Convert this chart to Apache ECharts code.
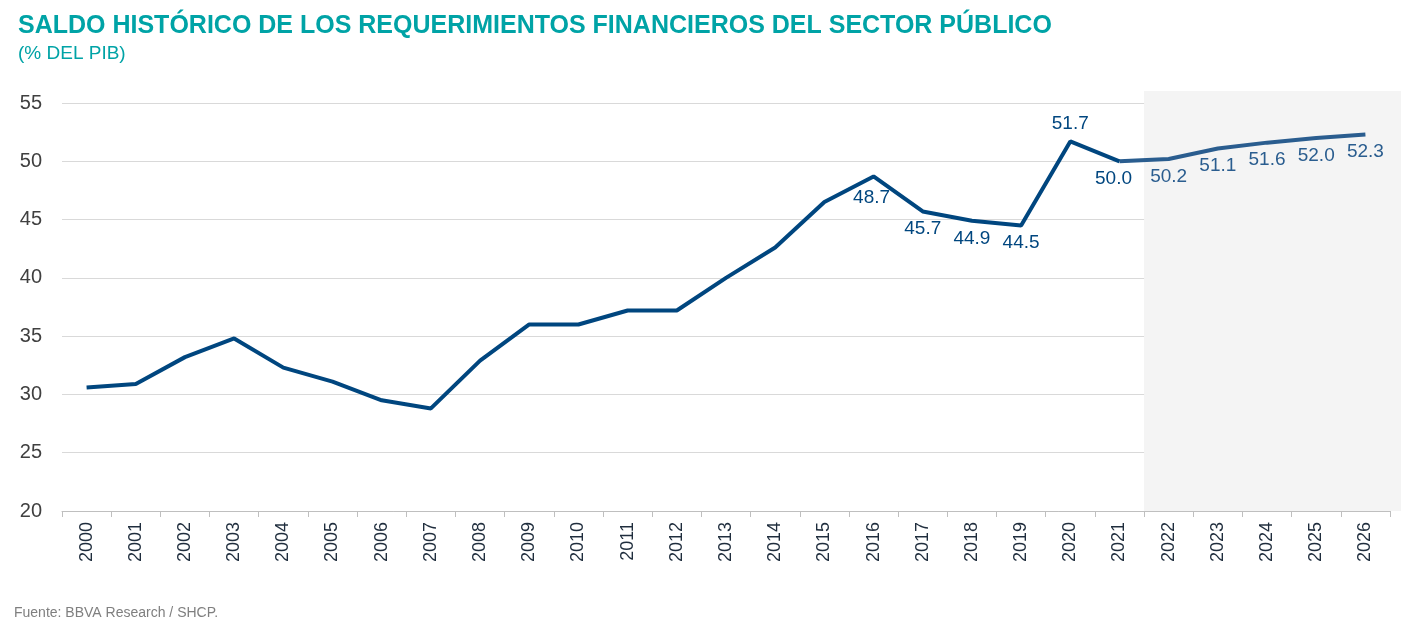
<!DOCTYPE html>
<html><head><meta charset="utf-8">
<script src="https://cdn.jsdelivr.net/npm/echarts@6/dist/echarts.min.js"></script>
<style>html,body{margin:0;padding:0;background:#fff}#c{width:1401px;height:632px}</style>
</head><body><div id="c"></div>
<script>
const years = ['2000','2001','2002','2003','2004','2005','2006','2007','2008','2009','2010','2011','2012','2013','2014','2015','2016','2017','2018','2019','2020','2021','2022','2023','2024','2025','2026'];
const values = [30.6,30.9,33.2,34.8,32.3,31.1,29.5,28.8,32.9,36.0,36.0,37.2,37.2,40.0,42.6,46.5,48.7,45.7,44.9,44.5,51.7,50.0,50.2,51.1,51.6,52.0,52.3];
const labelFrom = '2016';
const forecastFrom = '2021';
const yTicks = {min:20,max:55,interval:5};

const fi = years.indexOf(forecastFrom), li = years.indexOf(labelFrom);
const fmt = p => Number(Array.isArray(p.value)?p.value[1]:p.value).toFixed(1);
function lab(i,color){
  const l = {show:true, position: years[i]==='2020' ? 'top' : 'bottom', color:color, fontSize:19, distance:8, formatter:fmt};
  if (years[i]==='2016') l.offset=[-2,4];
  if (years[i]==='2021') l.offset=[-6,0];
  return l;
}
const hist = values.map((v,i)=> i<=fi ? (i>=li ? {value:v, label:lab(i,'#00467f')} : {value:v}) : null);
const fore = values.map((v,i)=> i>=fi ? (i>fi ? {value:v, label:lab(i,'#2a5d8f')} : {value:v}) : null);

const chart = echarts.init(document.getElementById('c'));
const opt = {
  animation:false,
  textStyle:{fontFamily:'Liberation Sans'},
  title:{text:'SALDO HISTÓRICO DE LOS REQUERIMIENTOS FINANCIEROS DEL SECTOR PÚBLICO', subtext:'(% DEL PIB)', left:13, top:9,
    itemGap:5,
    textStyle:{color:'#00a3a6', fontSize:25, fontWeight:'bold', fontFamily:'Liberation Sans'},
    subtextStyle:{color:'#00a3a6', fontSize:19, fontFamily:'Liberation Sans'}},
  grid:{left:62, right:11, top:103, bottom:121},
  xAxis:{type:'category', data:years, boundaryGap:true,
    axisLine:{lineStyle:{color:'#bfbfbf'}}, axisTick:{show:true, length:6, lineStyle:{color:'#bfbfbf'}},
    axisLabel:{rotate:90, color:'#1f2d3d', fontSize:18, margin:11}},
  yAxis:{type:'value', min:yTicks.min, max:yTicks.max, interval:yTicks.interval,
    axisLine:{show:false}, axisTick:{show:false},
    splitLine:{lineStyle:{color:'#d9d9d9'}},
    axisLabel:{color:'#404040', fontSize:20, margin:20}},
  graphic:[{type:'text', left:1180, top:378, style:{text:'Pronósticos BBVA\nResearch para\n2022-2026', fill:'#7f7f7f', fontSize:19, lineHeight:23, align:'center', x:92, fontFamily:'Liberation Sans'}},
    {type:'text', left:14, top:606, style:{text:'Fuente: BBVA Research / SHCP.', fill:'#7f7f7f', fontSize:14, fontFamily:'Liberation Sans'}}],
  series:[
    {type:'line', data:hist, symbol:'circle', symbolSize:0.1, showSymbol:true, lineStyle:{color:'#00467f', width:4}, itemStyle:{color:'#00467f'}, z:3},
    {type:'line', data:fore, symbol:'circle', symbolSize:0.1, showSymbol:true, lineStyle:{color:'#2a5d8f', width:4}, itemStyle:{color:'#2a5d8f'}, z:2}
  ]
};
chart.setOption(opt);
const a = chart.convertToPixel({xAxisIndex:0}, years[fi]);
const b = chart.convertToPixel({xAxisIndex:0}, years[fi+1]);
chart.setOption({series:[{markArea:{silent:true, itemStyle:{color:'#f4f4f4'}, data:[[{x:(a+b)/2, y:91},{x:1401, y:511}]]}}]});
</script></body></html>
